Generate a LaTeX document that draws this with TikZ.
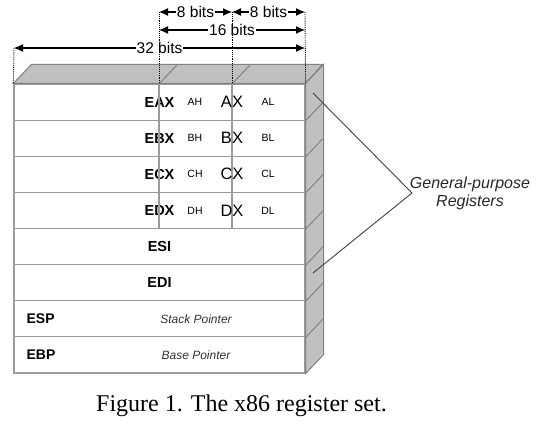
\documentclass[tikz,border=0pt]{standalone}
\usepackage{fontspec}
\setmainfont{Liberation Sans}
\newfontfamily\capfont{Liberation Serif}
\usetikzlibrary{arrows.meta}
\definecolor{facegray}{RGB}{192,192,192}
\definecolor{edgegray}{RGB}{130,130,130}
\definecolor{linegray}{RGB}{155,155,155}
\tikzset{
  regrow/.style={draw=linegray, line width=1.2pt, minimum width=291pt, minimum height=36.125pt,
    inner sep=0pt, font=\fontsize{14.5}{16}\selectfont\bfseries},
  halfreg/.style={font=\fontsize{10.5}{12}\selectfont},
  wordreg/.style={font=\fontsize{16.5}{18}\selectfont},
  ptrname/.style={font=\fontsize{14}{16}\selectfont\bfseries, anchor=west, inner sep=0pt},
  ptrtext/.style={font=\fontsize{12}{14}\selectfont\itshape, text=black!80},
  face/.style={fill=facegray, draw=edgegray, line width=1pt},
  dimline/.style={<->, >={Latex[length=9pt,width=8pt]}, line width=1.1pt},
  dimtext/.style={fill=white, inner sep=1pt, font=\fontsize{15.5}{17}\selectfont},
  guide/.style={densely dotted, line width=0.9pt}
}
\begin{document}
\begin{tikzpicture}[x=1pt, y=-1pt]
\useasboundingbox (0,0) rectangle (538,425);
% register rows
\node[regrow] (eax) at (159.5, 102.1) {EAX};
\node[regrow] (ebx) at (159.5, 138.2) {EBX};
\node[regrow] (ecx) at (159.5, 174.3) {ECX};
\node[regrow] (edx) at (159.5, 210.4) {EDX};
\node[regrow] (esi) at (159.5, 246.6) {ESI};
\node[regrow] (edi) at (159.5, 282.7) {EDI};
\node[regrow] (esp) at (159.5, 318.8) {};
\node[regrow] (ebp) at (159.5, 354.9) {};
% corners of the top face
\coordinate (tl) at (eax.north west);
\coordinate (tm1) at (159,84);
\coordinate (tm2) at (232,84);
\coordinate (tr) at (eax.north east);
% top and side faces
\draw[face] (tl) -- ++(18,-19) -- ++(291,0) -- (tr) -- cycle;
\draw[face] (tr) -- ++(18,-19) -- ([shift={(18,-19)}]ebp.south east) -- (ebp.south east) -- cycle;
\draw[face] (tm1) -- ++(18,-19);
\draw[face] (tm2) -- ++(18,-19);
\draw[face] (eax.south east) -- ++(18,-19);
\draw[face] (ebx.south east) -- ++(18,-19);
\draw[face] (ecx.south east) -- ++(18,-19);
\draw[face] (edx.south east) -- ++(18,-19);
\draw[face] (esi.south east) -- ++(18,-19);
\draw[face] (edi.south east) -- ++(18,-19);
\draw[face] (esp.south east) -- ++(18,-19);
% 8/16 bit splits
\draw[draw=linegray, line width=1.2pt] (tm1) -- (tm1 |- edx.south);
\draw[draw=linegray, line width=1.2pt] (tm2) -- (tm2 |- edx.south);
% byte and word names
\node[halfreg] (ah) at (195,102.1) {AH};
\node[wordreg] (ax) at (232,102.1) {AX};
\node[halfreg] (al) at (268,102.1) {AL};
\node[halfreg] (bh) at (195,138.2) {BH};
\node[wordreg] (bx) at (232,138.2) {BX};
\node[halfreg] (bl) at (268,138.2) {BL};
\node[halfreg] (ch) at (195,174.3) {CH};
\node[wordreg] (cx) at (232,174.3) {CX};
\node[halfreg] (cl) at (268,174.3) {CL};
\node[halfreg] (dh) at (195,210.4) {DH};
\node[wordreg] (dx) at (232,210.4) {DX};
\node[halfreg] (dl) at (268,210.4) {DL};
% pointer registers
\node[ptrname] (esplbl) at ([xshift=13pt]esp.west) {ESP};
\node[ptrtext] (sptext) at (196,318.8) {Stack Pointer};
\node[ptrname] (ebplbl) at ([xshift=13pt]ebp.west) {EBP};
\node[ptrtext] (bptext) at (196,354.9) {Base Pointer};
% bit widths
\coordinate (d8a) at (159,12);
\coordinate (d8b) at (232,12);
\coordinate (d8c) at (305,12);
\coordinate (d16a) at (159,30);
\coordinate (d16b) at (305,30);
\coordinate (d32a) at (14,48);
\coordinate (d32b) at (305,48);
\draw[dimline] (d8a) -- node[dimtext] (w8a) {8 bits} (d8b);
\draw[dimline] (d8b) -- node[dimtext] (w8b) {8 bits} (d8c);
\draw[dimline] (d16a) -- node[dimtext] (w16) {16 bits} (d16b);
\draw[dimline] (d32a) -- node[dimtext] (w32) {32 bits} (d32b);
\draw[guide] (d8a) -- (tm1);
\draw[guide] (d8b) -- (tm2);
\draw[guide] (d8c) -- (tr);
\draw[guide] (d32a) -- (tl);
% general-purpose bracket
\node[font=\fontsize{16}{18}\selectfont\itshape, align=center, text=black!85] (gpr) at (470,193) {General-purpose\\Registers};
\coordinate (gptop) at (313,93);
\coordinate (gptip) at (412,193);
\coordinate (gpbot) at (313,273);
\draw[line width=0.9pt, black!75] (gptop) -- (gptip) -- (gpbot);
% caption
\node[font=\capfont\fontsize{24}{26}\selectfont, anchor=base] (caption) at (241.5,411) {Figure 1. The x86 register set.};
\end{tikzpicture}
\end{document}
